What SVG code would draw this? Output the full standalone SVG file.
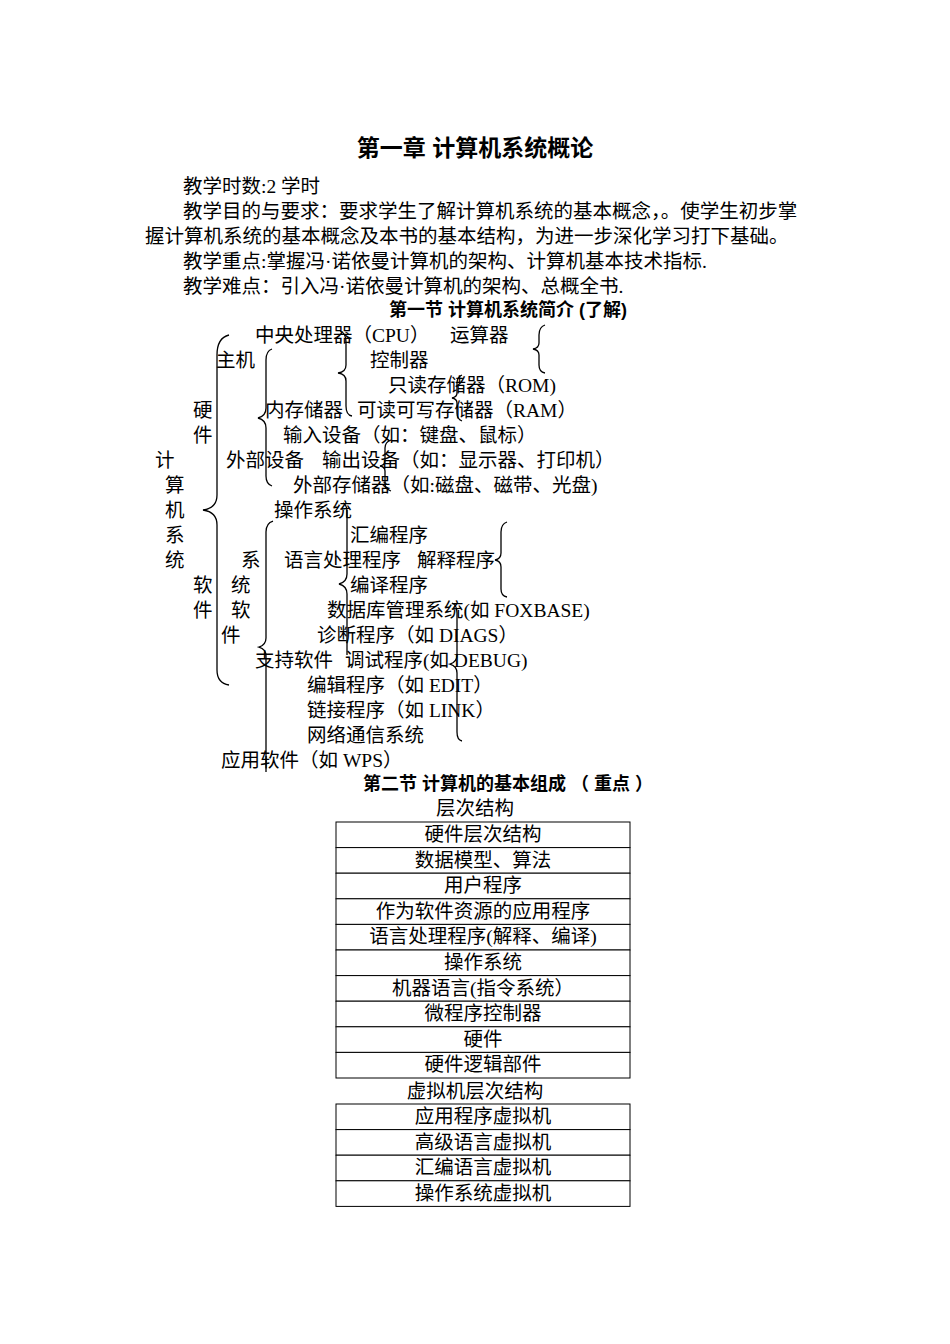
<svg xmlns="http://www.w3.org/2000/svg" width="950" height="1344" viewBox="0 0 950 1344">
<style>
text{font-family:"Liberation Serif","Noto Sans CJK SC",serif;font-size:19.5px;fill:#000}
.b{font-weight:bold;font-family:"Liberation Sans","Noto Sans CJK SC",sans-serif}
.c{text-anchor:middle}
.br{fill:none;stroke:#000;stroke-width:1.3}
rect{fill:#fff;stroke:#000;stroke-width:1}
</style>
<rect x="0" y="0" width="950" height="1344" style="stroke:none"/>
<g id="header">
<text class="b c" x="475" y="156" style="font-size:23px">第一章 计算机系统概论</text>
<text x="183" y="193">教学时数:2 学时</text>
<text x="183" y="218">教学目的与要求：要求学生了解计算机系统的基本概念，。使学生初步掌</text>
<text x="145" y="243">握计算机系统的基本概念及本书的基本结构，为进一步深化学习打下基础。</text>
<text x="183" y="268">教学重点:掌握冯·诺依曼计算机的架构、计算机基本技术指标.</text>
<text x="183" y="293">教学难点：引入冯·诺依曼计算机的架构、总概全书.</text>
<text class="b c" x="508" y="316" style="font-size:18px">第一节 计算机系统简介 (了解)</text>
</g>
<g id="tree-text">
<text x="255" y="342">中央处理器（CPU）</text><text x="450" y="342">运算器</text>
<text x="216" y="367">主机</text><text x="370" y="367">控制器</text>
<text x="388" y="392">只读存储器（ROM)</text>
<text x="193" y="417">硬</text><text x="265" y="417">内存储器</text><text x="357" y="417">可读可写存储器（RAM）</text>
<text x="193" y="442">件</text><text x="283" y="442">输入设备（如：键盘、鼠标）</text>
<text x="155" y="467">计</text><text x="226" y="467">外部设备</text><text x="322" y="467">输出设备（如：显示器、打印机）</text>
<text x="165" y="492">算</text><text x="293" y="492">外部存储器（如:磁盘、磁带、光盘)</text>
<text x="165" y="517">机</text><text x="274" y="517">操作系统</text>
<text x="165" y="542">系</text><text x="350" y="542">汇编程序</text>
<text x="165" y="567">统</text><text x="241" y="567">系</text><text x="284" y="567">语言处理程序</text><text x="417" y="567">解释程序</text>
<text x="193" y="592">软</text><text x="231" y="592">统</text><text x="350" y="592">编译程序</text>
<text x="193" y="617">件</text><text x="231" y="617">软</text><text x="327" y="617">数据库管理系统(如 FOXBASE)</text>
<text x="221" y="642">件</text><text x="317" y="642">诊断程序（如 DIAGS）</text>
<text x="255" y="667">支持软件</text><text x="345" y="667">调试程序(如 DEBUG)</text>
<text x="307" y="692">编辑程序（如 EDIT）</text>
<text x="307" y="717">链接程序（如 LINK）</text>
<text x="307" y="742">网络通信系统</text>
<text x="221" y="767">应用软件（如 WPS）</text>
</g>
<g id="connectors">
<path class="br" d="M229,335 Q217,338 217,355 L217,495 Q217,508 203,510 Q217,512 217,525 L217,670 Q217,683 229,685"/>
<path class="br" d="M272,349 Q266,351 266,360 L266,408 Q266,416 258,418 Q266,420 266,428 L266,476 Q266,484 272,486"/>
<path class="br" d="M340,331 Q346,333 346,342 L346,365 Q346,372 338,373 Q346,374 346,381 L346,406 Q346,415 352,416"/>
<path class="br" d="M545,325 Q539,327 539,335 L539,343 Q539,348 533,349 Q539,350 539,355 L539,365 Q539,372 545,373"/>
<path class="br" d="M462,375 Q457,377 457,383 L457,393 Q457,397 452,398 Q457,399 457,403 L457,413 Q457,419 462,421"/>
<path class="br" d="M391,440 Q385,442 385,448 L385,461 Q385,465 380,466 Q385,467 385,471 L385,484 Q385,489 391,491"/>
<path class="br" d="M273,521 Q266,523 266,532 L266,638 Q266,645 259,647 Q266,649 266,656 L266,772"/>
<path class="br" d="M343,503 Q347,505 347,512 L347,574 Q347,582 339,584 Q347,586 347,594 L347,655"/>
<path class="br" d="M507,522 Q501,524 501,532 L501,553 Q501,559 495,560 Q501,561 501,567 L501,589 Q501,596 507,597"/>
<path class="br" d="M452,603 Q457,605 457,613 L457,655 Q457,662 450,664 Q457,666 457,673 L457,732 Q457,740 462,741"/>
</g>
<g id="section2">
<text class="b c" x="508" y="790" style="font-size:18px">第二节 计算机的基本组成 （ 重点 ）</text>
<text class="c" x="475" y="815">层次结构</text>
<text class="c" x="475" y="1098">虚拟机层次结构</text>
</g>
<g id="table1">
<rect x="336" y="822" width="294" height="25.6"/><text class="c" x="483" y="841">硬件层次结构</text>
<rect x="336" y="847.6" width="294" height="25.6"/><text class="c" x="483" y="867">数据模型、算法</text>
<rect x="336" y="873.2" width="294" height="25.6"/><text class="c" x="483" y="892">用户程序</text>
<rect x="336" y="898.8" width="294" height="25.6"/><text class="c" x="483" y="918">作为软件资源的应用程序</text>
<rect x="336" y="924.4" width="294" height="25.6"/><text class="c" x="483" y="943">语言处理程序(解释、编译)</text>
<rect x="336" y="950" width="294" height="25.6"/><text class="c" x="483" y="969">操作系统</text>
<rect x="336" y="975.6" width="294" height="25.6"/><text class="c" x="483" y="995">机器语言(指令系统）</text>
<rect x="336" y="1001.2" width="294" height="25.6"/><text class="c" x="483" y="1020">微程序控制器</text>
<rect x="336" y="1026.8" width="294" height="25.6"/><text class="c" x="483" y="1046">硬件</text>
<rect x="336" y="1052.4" width="294" height="25.6"/><text class="c" x="483" y="1071">硬件逻辑部件</text>
</g>
<g id="table2">
<rect x="336" y="1104" width="294" height="25.6"/><text class="c" x="483" y="1123">应用程序虚拟机</text>
<rect x="336" y="1129.6" width="294" height="25.6"/><text class="c" x="483" y="1149">高级语言虚拟机</text>
<rect x="336" y="1155.2" width="294" height="25.6"/><text class="c" x="483" y="1174">汇编语言虚拟机</text>
<rect x="336" y="1180.8" width="294" height="25.6"/><text class="c" x="483" y="1200">操作系统虚拟机</text>
</g>
</svg>
